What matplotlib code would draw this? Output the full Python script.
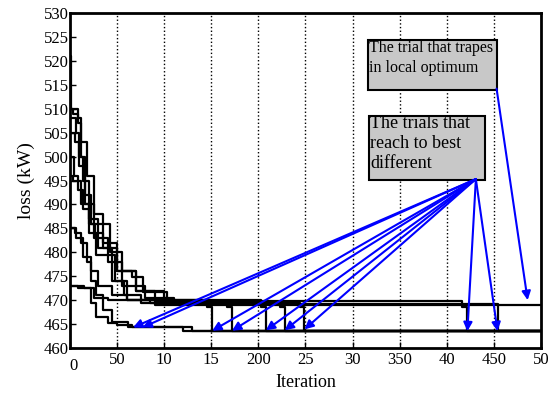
import numpy as np
import matplotlib
matplotlib.use("Agg")
import matplotlib.pyplot as plt
from matplotlib.patches import Rectangle
from matplotlib.transforms import ScaledTranslation

plt.rcParams['font.family'] = ['Liberation Serif', 'DejaVu Serif']

# Convergence curves (step breakpoints: iteration, loss in kW)
trials = [
    ([0, 8, 22, 28, 40, 50, 66, 130, 500],
     [473, 472.5, 469.5, 466.5, 465.2, 464.8, 464.3, 463.5, 463.5]),
    ([0, 5, 12, 18, 22, 28, 35, 45, 62, 120, 500],
     [485, 484, 482, 478, 474, 471, 468, 465.5, 464.3, 463.5, 463.5]),
    ([0, 15, 25, 40, 90, 500],
     [473, 472.5, 470.5, 470, 469, 469]),
    ([0, 1, 3, 8, 12, 16, 22, 30, 45, 60, 146, 151, 500],
     [521, 510, 509, 508, 500, 492, 486, 481, 474, 470, 468.5, 463.5, 463.5]),
    ([0, 8, 12, 18, 25, 35, 50, 70, 100, 167, 172, 500],
     [510, 507, 503, 496, 488, 482, 476, 472, 469.5, 468.6, 463.5, 463.5]),
    ([0, 6, 10, 14, 20, 30, 42, 55, 66, 77, 103, 203, 208, 500],
     [508, 505, 500, 495, 487, 486, 480, 476, 474.8, 471.7, 470, 468.5, 463.5, 463.5]),
    ([0, 5, 10, 16, 25, 40, 55, 80, 110, 223, 228, 500],
     [505, 503, 498, 490, 483, 478, 473, 470.5, 469.5, 468.6, 463.5, 463.5]),
    ([0, 4, 9, 14, 20, 28, 48, 57, 75, 244, 249, 500],
     [500, 496, 493, 489, 484, 479.5, 474, 471, 469.5, 468.5, 463.5, 463.5]),
    ([0, 3, 12, 20, 27, 35, 50, 70, 90, 416, 422, 500],
     [496, 495, 490, 486, 484, 481, 476, 472, 469.8, 468.5, 463.5, 463.5]),
    ([0, 6, 14, 22, 30, 45, 60, 85, 130, 454, 500],
     [485, 483, 479, 476, 473, 471, 470, 469.5, 469.2, 463.5, 463.5]),
]

xticks = [0, 50, 100, 150, 200, 250, 300, 350, 400, 450, 500]
xtick_labels = ['0', '50', '10', '15', '200', '25', '30', '350', '40', '450', '50']
yticks = list(range(460, 531, 5))

# arrow targets (iteration, loss) for the trials reaching the best value
best_targets = [(67, 464.3), (77, 464.3), (151, 463.6), (172, 463.6), (208, 463.7),
                (228, 463.7), (249, 463.9), (422, 463.5), (454, 463.5)]
best_source = (431, 495.3)
trap_source = (453, 514.2)
trap_target = (486, 470.0)

fig = plt.figure(figsize=(5.53, 3.95), dpi=100)
ax = fig.add_axes([0.1266, 0.119, 0.8514, 0.848])

for xs, ys in trials:
    ax.plot(xs, ys, drawstyle='steps-post', color='black', lw=1.6)

for xt in xticks[1:-1]:
    ax.axvline(xt, color='black', ls=':', lw=1.0, zorder=0)

ax.set_xlim(0, 500)
ax.set_ylim(460, 530)
ax.set_xticks(xticks)
ax.set_xticklabels(xtick_labels)
ax.set_yticks(yticks)
ax.tick_params(direction='in', length=4, width=1, labelsize=12, pad=1)
ax.tick_params(axis='x', pad=3)
for s in ax.spines.values():
    s.set_linewidth(2)
ax.set_xlabel('Iteration', fontsize=13)
ax.xaxis.set_label_coords(0.5, -0.078)
ax.set_ylabel('loss (kW)', fontsize=14, labelpad=6)

# the "0" label sits a bit lower in the original, clear of "460"
lbl0 = ax.get_xticklabels()[0]
lbl0.set_transform(lbl0.get_transform() + ScaledTranslation(0.03, -0.06, fig.dpi_scale_trans))

# annotation boxes
ax.add_patch(Rectangle((316, 513.9), 137, 10.5, facecolor='#c8c8c8',
                       edgecolor='black', lw=1.5, zorder=5))
ax.text(317.0, 524.4, 'The trial that trapes\nin local optimum', fontsize=11.5,
        va='top', ha='left', linespacing=1.35, zorder=6)
ax.add_patch(Rectangle((318, 495.1), 122.5, 13.4, facecolor='#c8c8c8',
                       edgecolor='black', lw=1.5, zorder=5))
ax.text(319.0, 508.6, 'The trials that\nreach to best\ndifferent', fontsize=13,
        va='top', ha='left', linespacing=1.22, zorder=6)

for tx, ty in best_targets:
    ax.annotate('', xy=(tx, ty), xytext=best_source,
                arrowprops=dict(arrowstyle='-|>', color='blue', lw=1.5,
                                mutation_scale=13, shrinkA=0, shrinkB=0), zorder=7)
ax.annotate('', xy=trap_target, xytext=trap_source,
            arrowprops=dict(arrowstyle='-|>', color='blue', lw=1.5,
                            mutation_scale=13, shrinkA=0, shrinkB=0), zorder=7)

fig.savefig('out.png', dpi=100)
